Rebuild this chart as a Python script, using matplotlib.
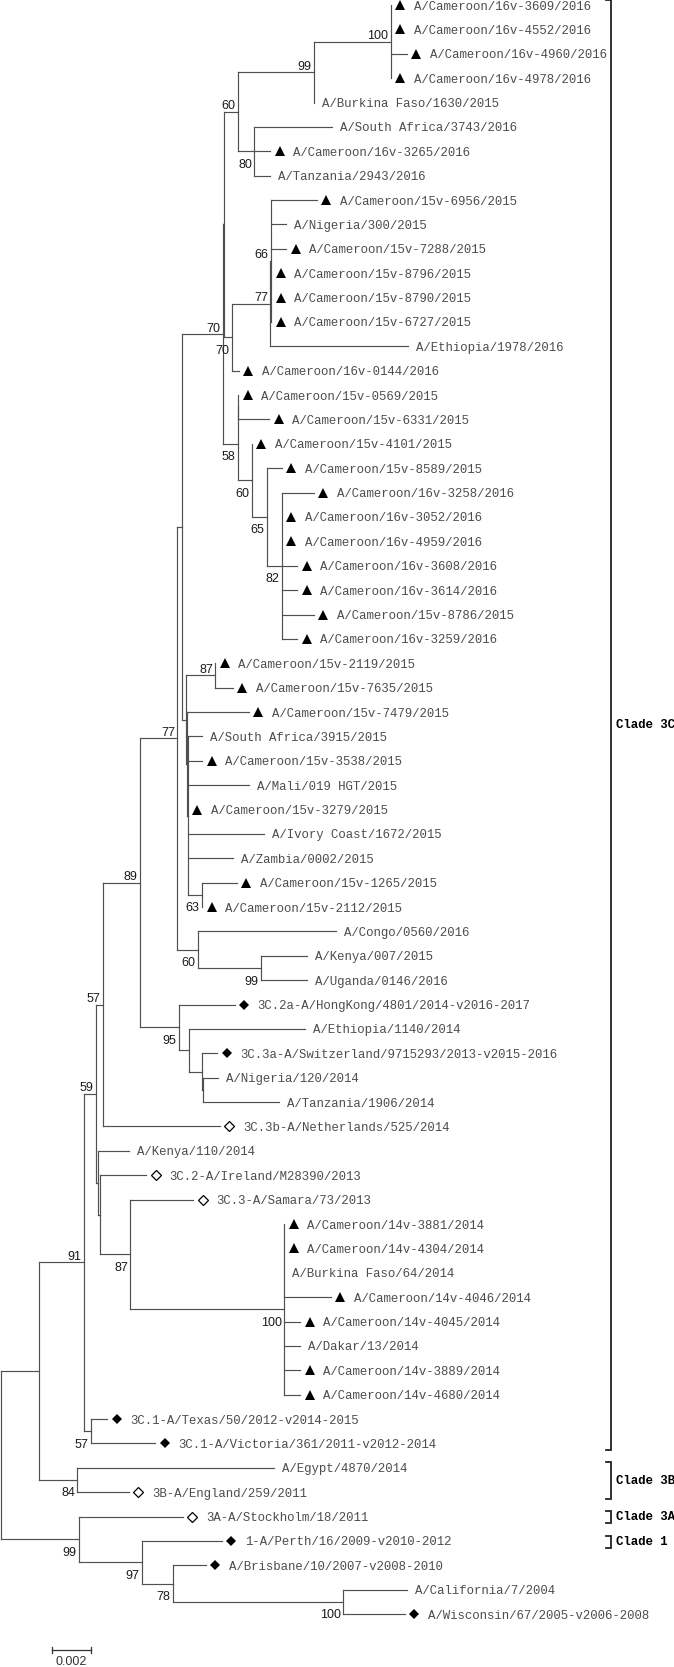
import matplotlib
matplotlib.use('Agg')
import matplotlib.pyplot as plt
import matplotlib.transforms as mtransforms
from matplotlib.collections import LineCollection

# Internal nodes: id, parent, branch length (substitutions/site), bootstrap
node_ids = ['root', 'c1', 'n84', 'n91', 'n57b', 'n59', 'n57a', 'n89', 'n77', 'z',
            'n70a', 'a1', 'n60a', 'n99a', 'n100a', 'n80', 'n70b', 'n77b', 'n66',
            'n58', 'n0569', 'n60c', 'n65', 'n82', 'p1', 'n87b', 'p2', 'p3', 'n63',
            'n60b', 'n99c', 'n95', 'q', 'r1', 'r2', 'x', 'y', 'n87', 'n100c',
            'n99o', 'n97', 'n78', 'n100b']
node_parent = [None, 'root', 'c1', 'c1', 'n91', 'n91', 'n59', 'n57a', 'n89', 'n77',
               'z', 'n70a', 'a1', 'n60a', 'n99a', 'n60a', 'a1', 'n70b', 'n77b',
               'n70a', 'n58', 'n58', 'n60c', 'n65', 'z', 'p1', 'p1', 'p2', 'p3',
               'n77', 'n60b', 'n89', 'n95', 'q', 'r1', 'n59', 'x', 'y', 'n87',
               'root', 'n99o', 'n97', 'n78']
node_blen = [0.0, 0.00194, 0.00198, 0.00232, 0.00033, 0.00060, 0.00035, 0.00192, 0.00192, 0.00022,
             0.00212, 0.00005, 0.00070, 0.00393, 0.00391, 0.00086, 0.00041, 0.00197, 0.00003,
             0.00075, 0.00003, 0.00073, 0.00077, 0.00077, 0.00022, 0.00151, 0.00004, 0.00004, 0.00074,
             0.00105, 0.00321, 0.00198, 0.00051, 0.00071, 0.00005, 0.00013, 0.00009, 0.00156, 0.00789,
             0.00399, 0.00324, 0.00159, 0.00873]
node_support = [None, None, 84, 91, 57, 59, 57, 89, 77, None,
                70, None, 60, 99, 100, 80, 70, 77, 66,
                58, None, 60, 65, 82, None, 87, None, None, 63,
                60, 99, 95, None, None, None, None, None, 87, 100,
                99, 97, 78, 100]
support_side = ['', '', 'below', 'above', 'below', 'above', 'above', 'above', 'above', '',
                'above', '', 'above', 'above', 'above', 'below', 'below', 'above', 'above',
                'below', '', 'below', 'below', 'below', '', 'above', '', '', 'below',
                'below', 'below', 'below', '', '', '', '', '', 'below', 'below',
                'below', 'below', 'below', 'below']

# Taxa (top to bottom), marker type, parent node, branch length
taxa = ['A/Cameroon/16v-3609/2016', 'A/Cameroon/16v-4552/2016', 'A/Cameroon/16v-4960/2016',
        'A/Cameroon/16v-4978/2016', 'A/Burkina Faso/1630/2015', 'A/South Africa/3743/2016',
        'A/Cameroon/16v-3265/2016', 'A/Tanzania/2943/2016', 'A/Cameroon/15v-6956/2015',
        'A/Nigeria/300/2015', 'A/Cameroon/15v-7288/2015', 'A/Cameroon/15v-8796/2015',
        'A/Cameroon/15v-8790/2015', 'A/Cameroon/15v-6727/2015', 'A/Ethiopia/1978/2016',
        'A/Cameroon/16v-0144/2016', 'A/Cameroon/15v-0569/2015', 'A/Cameroon/15v-6331/2015',
        'A/Cameroon/15v-4101/2015', 'A/Cameroon/15v-8589/2015', 'A/Cameroon/16v-3258/2016',
        'A/Cameroon/16v-3052/2016', 'A/Cameroon/16v-4959/2016', 'A/Cameroon/16v-3608/2016',
        'A/Cameroon/16v-3614/2016', 'A/Cameroon/15v-8786/2015', 'A/Cameroon/16v-3259/2016',
        'A/Cameroon/15v-2119/2015', 'A/Cameroon/15v-7635/2015', 'A/Cameroon/15v-7479/2015',
        'A/South Africa/3915/2015', 'A/Cameroon/15v-3538/2015', 'A/Mali/019 HGT/2015',
        'A/Cameroon/15v-3279/2015', 'A/Ivory Coast/1672/2015', 'A/Zambia/0002/2015',
        'A/Cameroon/15v-1265/2015', 'A/Cameroon/15v-2112/2015', 'A/Congo/0560/2016',
        'A/Kenya/007/2015', 'A/Uganda/0146/2016', '3C.2a-A/HongKong/4801/2014-v2016-2017',
        'A/Ethiopia/1140/2014', '3C.3a-A/Switzerland/9715293/2013-v2015-2016',
        'A/Nigeria/120/2014', 'A/Tanzania/1906/2014', '3C.3b-A/Netherlands/525/2014',
        'A/Kenya/110/2014', '3C.2-A/Ireland/M28390/2013', '3C.3-A/Samara/73/2013',
        'A/Cameroon/14v-3881/2014', 'A/Cameroon/14v-4304/2014', 'A/Burkina Faso/64/2014',
        'A/Cameroon/14v-4046/2014', 'A/Cameroon/14v-4045/2014', 'A/Dakar/13/2014',
        'A/Cameroon/14v-3889/2014', 'A/Cameroon/14v-4680/2014', '3C.1-A/Texas/50/2012-v2014-2015',
        '3C.1-A/Victoria/361/2011-v2012-2014', 'A/Egypt/4870/2014', '3B-A/England/259/2011',
        '3A-A/Stockholm/18/2011', '1-A/Perth/16/2009-v2010-2012', 'A/Brisbane/10/2007-v2008-2010',
        'A/California/7/2004', 'A/Wisconsin/67/2005-v2006-2008']
taxon_mark = ['tri', 'tri', 'tri', 'tri', '', '', 'tri', '', 'tri', '', 'tri', 'tri', 'tri', 'tri', '',
              'tri', 'tri', 'tri', 'tri', 'tri', 'tri', 'tri', 'tri', 'tri', 'tri', 'tri', 'tri',
              'tri', 'tri', 'tri', '', 'tri', '', 'tri', '', '', 'tri', 'tri', '', '', '', 'fd',
              '', 'fd', '', '', 'od', '', 'od', 'od', 'tri', 'tri', '', 'tri', 'tri', '', 'tri',
              'tri', 'fd', 'fd', '', 'od', 'od', 'fd', 'fd', '', 'fd']
taxon_parent = ['n100a', 'n100a', 'n100a', 'n100a', 'n99a', 'n80', 'n80', 'n80', 'n66', 'n66',
                'n66', 'n66', 'n66', 'n66', 'n77b', 'n70b', 'n0569', 'n0569', 'n60c', 'n65',
                'n82', 'n82', 'n82', 'n82', 'n82', 'n82', 'n82', 'n87b', 'n87b', 'p2',
                'p3', 'p3', 'p3', 'p3', 'p3', 'p3', 'n63', 'n63', 'n60b', 'n99c',
                'n99c', 'n95', 'q', 'r1', 'r2', 'r2', 'n57a', 'x', 'y', 'n87',
                'n100c', 'n100c', 'n100c', 'n100c', 'n100c', 'n100c', 'n100c', 'n100c', 'n57b', 'n57b',
                'n84', 'n84', 'n99o', 'n97', 'n78', 'n100b', 'n100b']
taxon_blen = [0, 0, 0.00084, 0, 0, 0.00395, 0.00082, 0.00082, 0.00234, 0.00079,
              0.00079, 0, 0, 0, 0.00705, 0.00033, 0, 0.00158, 0, 0.00077,
              0.00162, 0, 0, 0.00078, 0.00078, 0.00162, 0.00078, 0, 0.00088, 0.00317,
              0.00074, 0.00074, 0.00313, 0, 0.00392, 0.00231, 0.00179, 0, 0.00708, 0.00236,
              0.00236, 0.00287, 0.00597, 0.00077, 0.00073, 0.00388, 0.00601, 0.00158, 0.00238, 0.00321,
              0, 0, 0, 0.00238, 0.00082, 0.00082, 0.00082, 0.00082, 0.00085, 0.00331,
              0.01008, 0.00264, 0.00534, 0.00409, 0.00169, 0.00327, 0.00316]

clade_names = ['Clade 3C', 'Clade 3B', 'Clade 3A', 'Clade 1']
clade_first = [0, 60, 62, 63]
clade_last = [59, 61, 62, 63]

scale_len = 0.002

# ---- layout ----
parent_of = dict(zip(node_ids, node_parent))
blen_of = dict(zip(node_ids, node_blen))
node_x = {}


def get_x(n):
    if n not in node_x:
        p = parent_of[n]
        node_x[n] = 0.0 if p is None else get_x(p) + blen_of[n]
    return node_x[n]


leaf_x = [get_x(p) + b for p, b in zip(taxon_parent, taxon_blen)]
leaf_y = list(range(len(taxa)))

children = {n: [] for n in node_ids}
for n, p in zip(node_ids, node_parent):
    if p is not None:
        children[p].append(('node', n))
for i, p in enumerate(taxon_parent):
    children[p].append(('leaf', i))

node_y = {}
node_span = {}


def get_y(n):
    if n not in node_y:
        ys = [leaf_y[c] if kind == 'leaf' else get_y(c) for kind, c in children[n]]
        node_span[n] = (min(ys), max(ys))
        node_y[n] = (min(ys) + max(ys)) / 2
    return node_y[n]


for n in node_ids:
    get_x(n)
    get_y(n)

segs = []
for n, p in zip(node_ids, node_parent):
    lo, hi = node_span[n]
    segs.append([(node_x[n], lo), (node_x[n], hi)])
    if p is not None:
        segs.append([(node_x[p], node_y[n]), (node_x[n], node_y[n])])
for i, p in enumerate(taxon_parent):
    if taxon_blen[i] > 0:
        segs.append([(node_x[p], leaf_y[i]), (leaf_x[i], leaf_y[i])])

# ---- figure ----
W, H = 674, 1667
fig = plt.figure(figsize=(W / 100, H / 100), dpi=100)
ax = fig.add_axes([0, 0, 1, 1])
ax.axis('off')
px = scale_len / 39.0
row = 24.38
ax.set_xlim(-1 * px, (W - 1) * px)
ax.set_ylim((H - 5) / row, -5 / row)

ax.add_collection(LineCollection(segs, colors='#505050', linewidths=0.85,
                                 capstyle='projecting'))

mono = ['Liberation Mono', 'DejaVu Sans Mono']
sans = ['Liberation Sans', 'DejaVu Sans']

mk_tr = mtransforms.offset_copy(ax.transData, fig=fig, x=9.5, y=0, units='dots')
txt_mk = mtransforms.offset_copy(ax.transData, fig=fig, x=23, y=0, units='dots')
txt_plain = mtransforms.offset_copy(ax.transData, fig=fig, x=8, y=0, units='dots')

for i, name in enumerate(taxa):
    m = taxon_mark[i]
    if m == 'tri':
        ax.plot(leaf_x[i], leaf_y[i], marker='^', ms=7.2, color='black', mew=0,
                transform=mk_tr)
    elif m == 'fd':
        ax.plot(leaf_x[i], leaf_y[i], marker='D', ms=5.3, color='black', mew=0,
                transform=mk_tr)
    elif m == 'od':
        ax.plot(leaf_x[i], leaf_y[i], marker='D', ms=5.0, mfc='white', mec='black',
                mew=0.9, transform=mk_tr)
    ax.text(leaf_x[i], leaf_y[i], name, transform=txt_mk if m else txt_plain,
            ha='left', va='center_baseline', fontsize=8.9, family=mono, color='#4d4d4d')

above_tr = mtransforms.offset_copy(ax.transData, fig=fig, x=-2.5, y=2.5, units='dots')
below_tr = mtransforms.offset_copy(ax.transData, fig=fig, x=-2.5, y=-16.5, units='dots')
for n, s, side in zip(node_ids, node_support, support_side):
    if s is None:
        continue
    ax.text(node_x[n], node_y[n], str(s), transform=above_tr if side == 'above' else below_tr,
            ha='right', va='baseline', fontsize=9, family=sans, color='#1a1a1a')

# clade brackets
bt = mtransforms.blended_transform_factory(ax.transAxes, ax.transData)
xb = 610.5 / W
tick = 5 / W
for name, a, b in zip(clade_names, clade_first, clade_last):
    y0, y1 = a - 0.22, b + 0.28
    ax.plot([xb - tick, xb, xb, xb - tick], [y0, y0, y1, y1], color='#222222',
            lw=1.3, transform=bt, solid_joinstyle='miter')
    ax.text(616 / W, (y0 + y1) / 2, name, transform=bt, ha='left', va='center',
            fontsize=8.9, family=mono, fontweight='bold', color='black')

# scale bar
bar_x0 = 51 * px
bar_y = len(taxa) + 0.47
th = 3 / row
ax.plot([bar_x0, bar_x0 + scale_len], [bar_y, bar_y], color='#333333', lw=0.9)
ax.plot([bar_x0, bar_x0], [bar_y - th, bar_y + th], color='#333333', lw=0.9)
ax.plot([bar_x0 + scale_len] * 2, [bar_y - th, bar_y + th], color='#333333', lw=0.9)
ax.text(bar_x0 + scale_len / 2, bar_y + 12 / row, f'{scale_len:g}', ha='center',
        va='center', fontsize=9, family=sans, color='#333333')

fig.savefig('out.png', dpi=100)
